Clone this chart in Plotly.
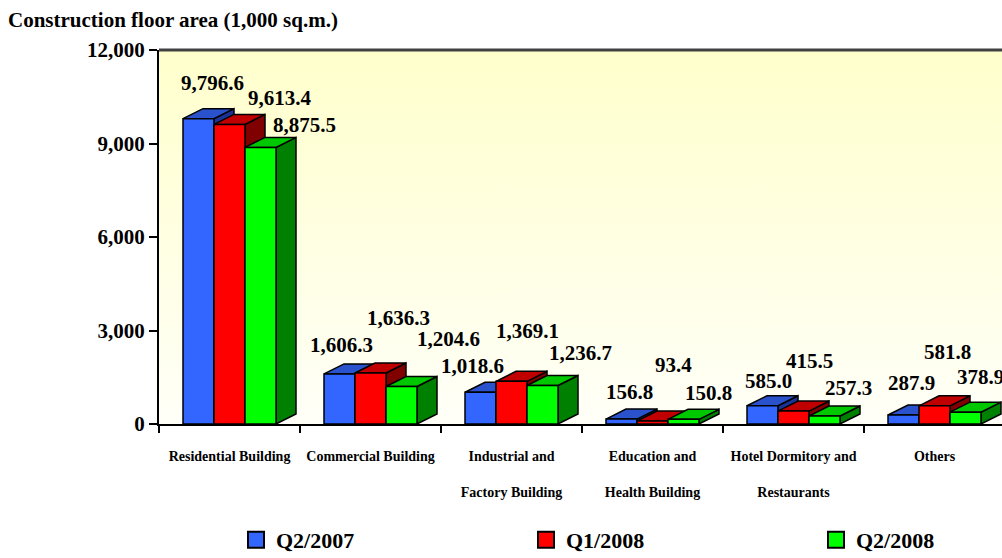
import base64
import plotly.graph_objects as go

# ---------------- data ----------------
categories = ["Residential Building", "Commercial Building", "Industrial and Factory Building",
              "Education and Health Building", "Hotel Dormitory and Restaurants", "Others"]
tick_labels = ["Residential Building", "Commercial Building",
               "Industrial and<br><br>Factory Building",
               "Education and<br><br>Health Building",
               "Hotel Dormitory and<br><br>Restaurants", "Others"]
series_names = ["Q2/2007", "Q1/2008", "Q2/2008"]
q2_2007 = [9796.6, 1606.3, 1018.6, 156.8, 585.0, 287.9]
q1_2008 = [9613.4, 1636.3, 1369.1, 93.4, 415.5, 581.8]
q2_2008 = [8875.5, 1204.6, 1236.7, 150.8, 257.3, 378.9]
y_tick_values = [0, 3000, 6000, 9000, 12000]
title_text = "Construction floor area (1,000 sq.m.)"

series_values = [q2_2007, q1_2008, q2_2008]

# ---------------- styles ----------------
FONT = "Liberation Serif, Times New Roman, serif"
FRONT = ["#3366FF", "#FF0000", "#00FF00"]
TOP = ["#2A52CC", "#C00000", "#00C800"]
SIDE = ["#1A3399", "#800000", "#008000"]

W, H = 1002, 558
M_L, M_R, M_T, M_B = 159, 0, 50, 134
PLOT_W = W - M_L - M_R
PLOT_H = H - M_T - M_B
PX_PER_CAT = 141.0
Y_MAX = 12000
BW = 31 / PX_PER_CAT                    # bar width (x units)
DX = 20 / PX_PER_CAT                    # depth offset x (x units)
DY = 10 * Y_MAX / PLOT_H                # depth offset y (y units)

# pixel offsets of value labels (dx right, dy up) per series / category
LABEL_SHIFTS = [
    [(14, 36), (2, 29), (-8, 26), (8, 27), (6, 25), (8, 32)],
    [(50, 26), (28, 55), (16, 50), (21, 56), (16, 50), (13, 54)],
    [(44, 22), (47, 47), (38, 32), (25, 26), (24, 28), (15, 35)],
]
LEGEND_X_PX = [236, 526, 816]           # left edge of each legend box (figure px)
LEGEND_Y_PX = 540                       # vertical centre of legend row

fig = go.Figure()
shapes = []
annotations = []

n = len(categories)
for i in range(n):
    for k in range(3):
        v = series_values[k][i]
        cx = i + (k - 1) * BW
        x0, x1 = cx - BW / 2, cx + BW / 2
        # side face
        shapes.append(dict(
            type="path", xref="x", yref="y", layer="below",
            path=f"M {x1},0 L {x1},{v} L {x1 + DX},{v + DY} L {x1 + DX},{DY} Z",
            fillcolor=SIDE[k], line=dict(color="black", width=1.5)))
        # top face
        shapes.append(dict(
            type="path", xref="x", yref="y", layer="below",
            path=f"M {x0},{v} L {x1},{v} L {x1 + DX},{v + DY} L {x0 + DX},{v + DY} Z",
            fillcolor=TOP[k], line=dict(color="black", width=1.5)))
        dx, dy = LABEL_SHIFTS[k][i]
        annotations.append(dict(
            x=cx, y=v, xref="x", yref="y", text=f"{v:,.1f}", showarrow=False,
            xshift=dx, yshift=dy, xanchor="center", yanchor="middle",
            font=dict(family=FONT, size=21, color="black", weight="bold")))

legend_keys = ["legend", "legend2", "legend3"]
for k in range(3):
    fig.add_trace(go.Bar(
        x=[i + (k - 1) * BW for i in range(n)],
        y=series_values[k],
        width=BW,
        name=series_names[k],
        legendgroup=series_names[k],
        showlegend=False,
        marker=dict(color=FRONT[k], line=dict(color="black", width=1.5)),
        hovertext=categories,
    ))
for k in range(3):
    # legend entry (bigger square swatch than the default bar icon)
    fig.add_trace(go.Scatter(
        x=[None], y=[None], mode="markers", name=series_names[k],
        legendgroup=series_names[k], legend=legend_keys[k], showlegend=True,
        marker=dict(symbol="square", size=18, color=FRONT[k],
                    line=dict(color="black", width=2)),
    ))

# top border of plot area
shapes.append(dict(type="line", xref="paper", yref="paper", x0=0, x1=1, y0=1, y1=1,
                   line=dict(color="#404040", width=3), layer="above"))

svg = ("<svg xmlns='http://www.w3.org/2000/svg' width='100' height='100' preserveAspectRatio='none'>"
       "<defs><linearGradient id='g' x1='0' y1='0' x2='0' y2='1'>"
       "<stop offset='0' stop-color='#FFFFCC'/><stop offset='1' stop-color='#FFFFF8'/>"
       "</linearGradient></defs><rect width='100' height='100' fill='url(#g)'/></svg>")
uri = "data:image/svg+xml;base64," + base64.b64encode(svg.encode()).decode()

legend_common = dict(orientation="h", xanchor="left", yanchor="middle",
                     y=(PLOT_H - (LEGEND_Y_PX - M_T)) / PLOT_H,
                     font=dict(family=FONT, size=22, color="black", weight="bold"),
                     bgcolor="rgba(0,0,0,0)", itemsizing="trace")

fig.update_layout(
    width=W, height=H,
    margin=dict(l=M_L, r=M_R, t=M_T, b=M_B, pad=0, autoexpand=False),
    paper_bgcolor="white",
    plot_bgcolor="rgba(0,0,0,0)",
    barmode="overlay",
    showlegend=True,
    title=dict(text=title_text, x=8 / W, xref="container", xanchor="left",
               y=1 - 20 / H, yref="container", yanchor="middle",
               font=dict(family=FONT, size=21, color="black", weight="bold")),
    legend=dict(x=(LEGEND_X_PX[0] - M_L) / PLOT_W, **legend_common),
    legend2=dict(x=(LEGEND_X_PX[1] - M_L) / PLOT_W, **legend_common),
    legend3=dict(x=(LEGEND_X_PX[2] - M_L) / PLOT_W, **legend_common),
    xaxis=dict(range=[-0.5, -0.5 + PLOT_W / PX_PER_CAT], automargin=False,
               tickmode="array", tickvals=list(range(n)), ticktext=tick_labels,
               ticks="", showgrid=False, zeroline=False,
               showline=True, linecolor="black", linewidth=2,
               minor=dict(tickvals=[j - 0.5 for j in range(n + 1)], ticks="outside",
                          ticklen=7, tickwidth=2, tickcolor="black", showgrid=False),
               ticklabelstandoff=18,
               tickfont=dict(family=FONT, size=14, color="black", weight="bold")),
    yaxis=dict(range=[0, Y_MAX], automargin=False, tickmode="array", tickvals=y_tick_values,
               tickformat=",", ticks="outside", ticklen=8, tickwidth=2, tickcolor="black",
               showline=True, linecolor="black", linewidth=2,
               showgrid=False, zeroline=False,
               tickfont=dict(family=FONT, size=21, color="black", weight="bold")),
    shapes=shapes,
    annotations=annotations,
    images=[dict(source=uri, xref="paper", yref="paper", x=0, y=1, sizex=1, sizey=1,
                 xanchor="left", yanchor="top", sizing="stretch", layer="below")],
)

fig.write_html("out.html", config={"displayModeBar": False},
               post_script="document.body.style.margin='0';")
